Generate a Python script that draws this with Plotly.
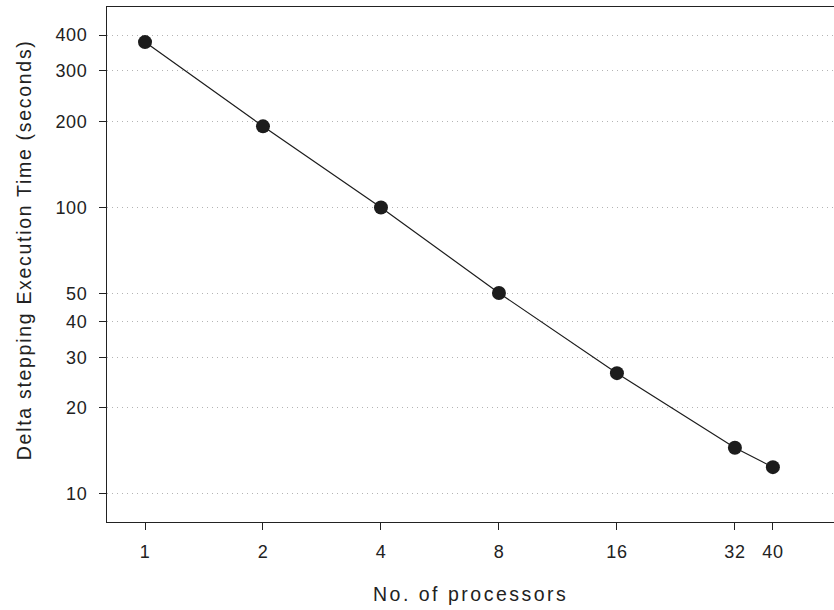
import plotly.graph_objects as go

# Processor counts and measured delta-stepping run times
processors = [1, 2, 4, 8, 16, 32, 40]
exec_time = [378, 192, 100, 50.3, 26.4, 14.5, 12.4]

x_ticks = [1, 2, 4, 8, 16, 32, 40]
y_ticks = [10, 20, 30, 40, 50, 100, 200, 300, 400]

x_title = "No. of processors"
y_title = "Delta stepping Execution Time (seconds)"

ink = "#1c1c1c"
text_col = "#222222"
font_family = "Liberation Sans, Arial, Helvetica, sans-serif"


def spaced(text, px):
    """Wrap text in a span with extra letter spacing."""
    return f'<span style="letter-spacing:{px}px">{text}</span>'


fig = go.Figure(
    go.Scatter(
        x=processors,
        y=exec_time,
        mode="lines+markers",
        line=dict(color=ink, width=1.2),
        marker=dict(color=ink, size=14),
        showlegend=False,
    )
)

fig.update_layout(
    width=834,
    height=610,
    margin=dict(l=107, r=0, t=7, b=88),
    paper_bgcolor="white",
    plot_bgcolor="white",
    font=dict(family=font_family, size=18, color=text_col),
)

fig.update_xaxes(
    type="log",
    range=[-0.097, 1.758],
    tickmode="array",
    tickvals=x_ticks,
    ticktext=[spaced(str(v), 0.6) for v in x_ticks],
    showgrid=False,
    zeroline=False,
    showline=True,
    linecolor=text_col,
    linewidth=1.3,
    mirror=True,
    ticks="outside",
    ticklen=7,
    tickcolor=text_col,
    tickfont=dict(size=18),
    ticklabelstandoff=6,
)

fig.update_yaxes(
    type="log",
    range=[0.902, 2.700],
    tickmode="array",
    tickvals=y_ticks,
    ticktext=[spaced(str(v), 0.6) for v in y_ticks],
    showgrid=True,
    gridcolor="#b4b4b4",
    gridwidth=1,
    griddash="1px,4px",
    zeroline=False,
    showline=True,
    linecolor=text_col,
    linewidth=1.3,
    mirror=False,
    ticks="outside",
    ticklen=7,
    tickcolor=text_col,
    tickfont=dict(size=18),
    ticklabelstandoff=8,
)

# Axis titles drawn as annotations for precise placement
fig.add_annotation(
    text=spaced(x_title, 2.5),
    xref="paper", yref="paper",
    x=0.5, y=-0.14,
    xanchor="center", yanchor="middle",
    showarrow=False,
    font=dict(size=19.5, color=text_col),
)
fig.add_annotation(
    text=spaced(y_title, 1.7),
    xref="paper", yref="paper",
    x=-0.114, y=0.528,
    xanchor="center", yanchor="middle",
    textangle=-90,
    showarrow=False,
    font=dict(size=19.5, color=text_col),
)

fig.write_html("out.html")
